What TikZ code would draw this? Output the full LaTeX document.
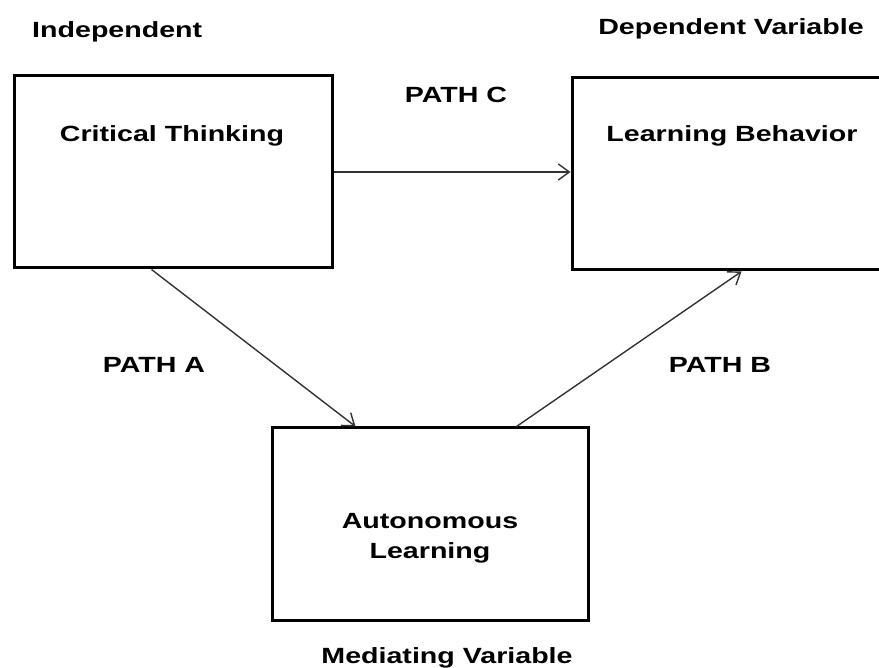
\documentclass[tikz,border=0pt]{standalone}
\usepackage{fontspec}
\setmainfont{Liberation Sans}[FakeStretch=1.3]
\usetikzlibrary{arrows.meta,calc}
\tikzset{
  box/.style={draw=black, line width=3pt, rectangle, inner sep=0pt, minimum width=#1, minimum height=192pt},
  lbl/.style={anchor=base, font=\fontsize{22pt}{30pt}\selectfont\bfseries, inner sep=0pt, align=center},
  conn/.style={draw=black!80, line width=1.4pt, -{Straight Barb[length=11pt,width=16pt,line width=1.4pt]}}
}
\begin{document}
\begin{tikzpicture}[x=1pt,y=-1pt]
\useasboundingbox (0,0) rectangle (879,668);
\clip (0,0) rectangle (879,668);
\fill[white] (0,0) rectangle (879,668);
% boxes
\node[box=318pt] (ct) at (173,172) {};
\node[box=318pt] (lb) at (731,174) {};
\node[box=316pt] (al) at (430,524) {};
% texts
\node[lbl, anchor=base west] (indep) at (32,38) {Independent};
\node[lbl] (dep) at (731,35) {Dependent Variable};
\node[lbl] (cttext) at (172,142) {Critical Thinking};
\node[lbl] (lbtext) at (732,142) {Learning Behavior};
\node[lbl] (pc) at (456,103) {PATH C};
\node[lbl] (pa) at (154,373) {PATH A};
\node[lbl] (pb) at (720,373) {PATH B};
\node[lbl] (altext) at (430,558) {Autonomous\\[0pt]Learning};
\node[lbl] (med) at (447,663) {Mediating Variable};
% connectors
\draw[conn] (ct.east) -- (ct.east -| lb.west);
\draw[conn] ([xshift=139pt]ct.south west) -- ([xshift=85pt]al.north west);
\draw[conn] ([xshift=246pt]al.north west) -- ([xshift=171pt]lb.south west);
\end{tikzpicture}
\end{document}
